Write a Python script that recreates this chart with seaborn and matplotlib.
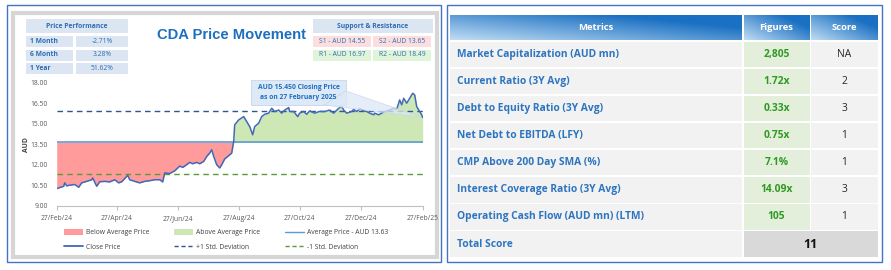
import numpy as np
import pandas as pd
import matplotlib
matplotlib.use("Agg")
import matplotlib.pyplot as plt
from matplotlib.patches import Rectangle, Polygon
from matplotlib.lines import Line2D
from matplotlib.patches import Patch
import seaborn as sns

# ---------------- data ----------------
dates = ["2024-02-27", "2024-02-29", "2024-03-05", "2024-03-06", "2024-03-08", "2024-03-11",
         "2024-03-16", "2024-03-20", "2024-03-23", "2024-03-28", "2024-04-02", "2024-04-03",
         "2024-04-07", "2024-04-10", "2024-04-15", "2024-04-20", "2024-04-25", "2024-04-29",
         "2024-05-02", "2024-05-08", "2024-05-10", "2024-05-15", "2024-05-20", "2024-05-25",
         "2024-05-30", "2024-06-04", "2024-06-09", "2024-06-12", "2024-06-14", "2024-06-19",
         "2024-06-24", "2024-06-29", "2024-07-02", "2024-07-06", "2024-07-09", "2024-07-12",
         "2024-07-16", "2024-07-19", "2024-07-23", "2024-07-26", "2024-07-29", "2024-07-31",
         "2024-08-02", "2024-08-05", "2024-08-08", "2024-08-10", "2024-08-13", "2024-08-17",
         "2024-08-20", "2024-08-22", "2024-08-23", "2024-08-27", "2024-09-01", "2024-09-04",
         "2024-09-07", "2024-09-10", "2024-09-12", "2024-09-16", "2024-09-19", "2024-09-22",
         "2024-09-26", "2024-09-29", "2024-10-02", "2024-10-06", "2024-10-09", "2024-10-12",
         "2024-10-16", "2024-10-17", "2024-10-21", "2024-10-25", "2024-10-27", "2024-10-31",
         "2024-11-03", "2024-11-06", "2024-11-11", "2024-11-16", "2024-11-21", "2024-11-26",
         "2024-11-30", "2024-12-05", "2024-12-08", "2024-12-10", "2024-12-13", "2024-12-18",
         "2024-12-20", "2024-12-23", "2024-12-26", "2024-12-30", "2025-01-02", "2025-01-05",
         "2025-01-09", "2025-01-10", "2025-01-14", "2025-01-17", "2025-01-20", "2025-01-25",
         "2025-01-29", "2025-02-01", "2025-02-04", "2025-02-06", "2025-02-08", "2025-02-11",
         "2025-02-14", "2025-02-17", "2025-02-19", "2025-02-21", "2025-02-24", "2025-02-26",
         "2025-02-27"]
close = [10.25, 10.30, 10.42, 10.67, 10.45, 10.50,
         10.55, 10.35, 10.67, 10.78, 10.90, 11.03,
         10.42, 10.75, 10.78, 10.74, 10.90, 10.67,
         10.75, 11.22, 10.90, 10.78, 10.67, 10.78,
         10.83, 10.90, 10.90, 10.74, 11.40, 11.35,
         11.55, 11.90, 11.80, 12.00, 12.17, 12.07,
         12.17, 12.07, 12.24, 12.60, 12.85, 13.09,
         12.60, 12.00, 11.76, 12.00, 12.42, 12.66,
         12.85, 13.70, 14.92, 15.28, 15.52, 15.16,
         14.79, 14.19, 14.79, 15.04, 15.52, 15.69,
         15.77, 16.13, 15.89, 16.00, 15.77, 16.00,
         16.18, 15.89, 15.89, 15.52, 15.77, 15.89,
         15.69, 15.94, 15.77, 15.90, 15.89, 16.00,
         15.77, 16.13, 16.25, 16.00, 15.77, 15.89,
         16.05, 15.89, 16.10, 15.95, 15.89, 15.77,
         15.65, 15.77, 15.65, 15.77, 15.89, 16.00,
         16.13, 16.05, 16.74, 16.38, 16.86, 16.50,
         16.86, 17.23, 17.10, 16.25, 15.89, 15.65,
         15.45]
avg_price = 13.63
plus_std = 15.96
minus_std = 11.30
y_ticks = [9.00, 10.50, 12.00, 13.50, 15.00, 16.50, 18.00]
x_ticks = ["2024-02-27", "2024-04-27", "2024-06-27", "2024-08-27", "2024-10-27", "2024-12-27", "2025-02-27"]

perf_labels = ["1 Month", "6 Month", "1 Year"]
perf_values = ["-2.71%", "3.28%", "51.62%"]
support = ["S1 - AUD 14.55", "S2 - AUD 13.65"]
resistance = ["R1 - AUD 16.97", "R2 - AUD 18.49"]

metrics = ["Market Capitalization (AUD mn)", "Current Ratio (3Y Avg)", "Debt to Equity Ratio (3Y Avg)",
           "Net Debt to EBITDA (LFY)", "CMP Above 200 Day SMA (%)", "Interest Coverage Ratio (3Y Avg)",
           "Operating Cash Flow (AUD mn) (LTM)"]
figures = ["2,805", "1.72x", "0.33x", "0.75x", "7.1%", "14.09x", "105"]
scores = ["NA", "2", "3", "1", "1", "3", "1"]
total_score = "11"

# ---------------- setup ----------------
sns.set_theme(style="white")
plt.rcParams['font.family'] = ['Open Sans', 'DejaVu Sans']
FS = 4.9      # small text
FT = 7.4      # table text
W, H = 891, 270
fig = plt.figure(figsize=(W / 100, H / 100), dpi=100)
fig.patch.set_facecolor("white")


def R(x0, y0, x1, y1, **kw):
    r = Rectangle((x0 / W, 1 - y1 / H), (x1 - x0) / W, (y1 - y0) / H, transform=fig.transFigure, **kw)
    fig.add_artist(r)
    return r


def T(x, y, s, **kw):
    return fig.text(x / W, 1 - y / H, s, **kw)


def gradient(x0, y0, x1, y1, c_light, c_dark):
    ax_g = fig.add_axes([x0 / W, 1 - y1 / H, (x1 - x0) / W, (y1 - y0) / H])
    xx, yy = np.meshgrid(np.linspace(0, 1, 200), np.linspace(0, 1, 40))
    t = np.clip(0.7 * xx + 0.6 * yy, 0, 1)[..., None]
    cl = np.array(matplotlib.colors.to_rgb(c_light))
    cd = np.array(matplotlib.colors.to_rgb(c_dark))
    img = cl * (1 - t) + cd * t
    ax_g.imshow(img, extent=[0, 1, 0, 1], aspect="auto", origin="lower")
    ax_g.axis("off")
    return ax_g


# panel frames
R(7, 5, 441, 262, facecolor="white", edgecolor="#4472c4", lw=1.0, zorder=0)
R(13, 13, 437, 257, facecolor="white", edgecolor="#d6d6d6", lw=3.0, zorder=0)
R(447, 5, 882, 262, facecolor="white", edgecolor="#4472c4", lw=1.0, zorder=0)

# ---------------- price chart ----------------
df = pd.DataFrame({"date": pd.to_datetime(dates), "close": close})
ax = fig.add_axes([56.7 / W, 1 - 205.7 / H, (422.7 - 56.7) / W, (205.7 - 82.7) / H])
ax.set_facecolor("none")

ax.fill_between(df["date"], df["close"], avg_price, where=df["close"] <= avg_price,
                interpolate=True, color="#ff9b9b", lw=0, zorder=1)
ax.fill_between(df["date"], df["close"], avg_price, where=df["close"] >= avg_price,
                interpolate=True, color="#cde8b5", lw=0, zorder=1)
x0d, x1d = df["date"].iloc[0], df["date"].iloc[-1]
ax.plot([x0d, x1d], [avg_price, avg_price], color="#5b9bd5", lw=1.2, zorder=2)
ax.plot([x0d, x1d], [plus_std, plus_std], color="#2f5597", lw=1.0, ls=(0, (4, 3)), zorder=2)
ax.plot([x0d, x1d], [minus_std, minus_std], color="#5a9a3a", lw=1.0, ls=(0, (4, 3)), zorder=2)
sns.lineplot(data=df, x="date", y="close", ax=ax, color="#4169b8", lw=1.1, zorder=3)

ax.set_xlim(pd.Timestamp(x_ticks[0]), pd.Timestamp(x_ticks[-1]))
ax.set_ylim(9, 18)
ax.set_yticks(y_ticks)
ax.set_yticklabels([f"{v:.2f}" for v in y_ticks], fontsize=FS, color="#595959")
ax.set_xticks(pd.to_datetime(x_ticks))
ax.set_xticklabels([pd.Timestamp(t).strftime("%d/%b/%y") for t in x_ticks], fontsize=FS, color="#595959")
ax.tick_params(axis="y", length=0, pad=6.5)
ax.tick_params(axis="x", length=3, color="#bfbfbf", width=0.8, pad=4, bottom=True)
for s in ["top", "right", "left"]:
    ax.spines[s].set_visible(False)
ax.spines["bottom"].set_color("#bfbfbf")
ax.spines["bottom"].set_linewidth(0.8)
ax.set_xlabel("")
ax.set_ylabel("AUD", fontsize=FS, fontweight="bold", color="#404040")
ax.yaxis.set_label_coords(-0.073, 0.5)

# legend: three columns placed at the reference positions
leg_cols = [
    ([Patch(facecolor="#ff9b9b", edgecolor="none"), Line2D([], [], color="#4169b8", lw=1.3)],
     ["Below Average Price", "Close Price"], 61),
    ([Patch(facecolor="#cde8b5", edgecolor="none"), Line2D([], [], color="#2f5597", lw=1.0, ls=(0, (3, 2)))],
     ["Above Average Price", "+1 Std. Deviation"], 171),
    ([Line2D([], [], color="#5b9bd5", lw=1.0), Line2D([], [], color="#5a9a3a", lw=1.0, ls=(0, (3, 2)))],
     ["Average Price - AUD 13.63", "-1 Std. Deviation"], 282),
]
for hs, ls_, xpos in leg_cols:
    fig.legend(hs, ls_, ncol=1, loc="upper left", bbox_to_anchor=(xpos / W, 1 - 226.5 / H),
               frameon=False, fontsize=FS, handlelength=2.9, handleheight=0.9,
               labelspacing=1.05, handletextpad=0.4, labelcolor="#404040", borderaxespad=0, borderpad=0.4)

# callout
R(251, 80, 346, 105, facecolor="#dde9f6", edgecolor="#c5d6ea", lw=0.6, zorder=5)
tri = Polygon([(346 / W, 1 - 91 / H), (324 / W, 1 - 105 / H), (421 / W, 1 - 117 / H)],
              closed=True, transform=fig.transFigure, facecolor="#dde9f6", edgecolor="#c5d6ea",
              lw=0.6, alpha=0.75, zorder=5)
fig.add_artist(tri)
T(298.5, 92.5, "AUD 15.450 Closing Price\nas on 27 February 2025", ha="center", va="center",
  fontsize=FS, fontweight="bold", color="#1f6fc0", linespacing=1.6, zorder=6)

# title
T(231.5, 35, "CDA Price Movement", ha="center", va="center", fontsize=10.6, fontweight="bold",
  color="#1f6fbf", family=["Liberation Sans", "DejaVu Sans"])

# price performance table
hdr_bg = "#dce6f2"
R(26, 19, 128, 33, facecolor=hdr_bg, lw=0)
T(77, 26, "Price Performance", ha="center", va="center", fontsize=FS, fontweight="bold", color="#2e6db4")
for i, (lab, val) in enumerate(zip(perf_labels, perf_values)):
    y0 = 36 + i * 13.5
    R(26, y0, 73, y0 + 11, facecolor=hdr_bg, lw=0)
    R(76, y0, 128, y0 + 11, facecolor=hdr_bg, lw=0)
    T(30, y0 + 5.5, lab, ha="left", va="center", fontsize=FS, fontweight="bold", color="#2e6db4")
    T(102, y0 + 5.5, val, ha="center", va="center", fontsize=FS, color="#2e6db4")

# support & resistance
R(313, 19, 433, 33, facecolor=hdr_bg, lw=0)
T(373, 26, "Support & Resistance", ha="center", va="center", fontsize=FS, fontweight="bold", color="#2e6db4")
for j, s in enumerate(support):
    xa = 313 + j * 60
    R(xa, 36, xa + 58, 47, facecolor="#fcdede", lw=0)
    T(xa + 29, 41.5, s, ha="center", va="center", fontsize=FS, color="#2e6db4")
for j, s in enumerate(resistance):
    xa = 313 + j * 60
    R(xa, 49.5, xa + 58, 60.5, facecolor="#dff4d8", lw=0)
    T(xa + 29, 55, s, ha="center", va="center", fontsize=FS, color="#2e6db4")

# ---------------- metrics table ----------------
cols = [(450, 742), (743.5, 809.5), (811, 878)]
for a, b in cols:
    gradient(a, 15, b, 40, "#c0ddf4", "#1a70c2")
for (a, b), h in zip(cols, ["Metrics", "Figures", "Score"]):
    T((a + b) / 2, 27.5, h, ha="center", va="center", fontsize=FT - 0.6, fontweight="bold", color="white", zorder=10)

row_h = 27.1
for i, (m, f, s) in enumerate(zip(metrics, figures, scores)):
    y0 = 41.7 + i * row_h
    y1 = y0 + 25.3
    R(cols[0][0], y0, cols[0][1], y1, facecolor="#f2f2f2", lw=0)
    R(cols[1][0], y0, cols[1][1], y1, facecolor="#e3efdb", lw=0)
    R(cols[2][0], y0, cols[2][1], y1, facecolor="#f2f2f2", lw=0)
    yc = (y0 + y1) / 2
    T(457, yc, m, ha="left", va="center", fontsize=FT, fontweight="bold", color="#2e75c0")
    T((cols[1][0] + cols[1][1]) / 2, yc, f, ha="center", va="center", fontsize=FT, fontweight="bold",
      color="#2f9a22")
    T((cols[2][0] + cols[2][1]) / 2, yc, s, ha="center", va="center", fontsize=FT, color="#262626")

y0 = 41.7 + 7 * row_h
y1 = y0 + 25.3
R(cols[0][0], y0, cols[0][1], y1, facecolor="#f2f2f2", lw=0)
R(cols[1][0], y0, cols[2][1], y1, facecolor="#d9d9d9", lw=0)
T(457, (y0 + y1) / 2, "Total Score", ha="left", va="center", fontsize=FT, fontweight="bold", color="#2e75c0")
T((cols[1][0] + cols[2][1]) / 2, (y0 + y1) / 2, total_score, ha="center", va="center", fontsize=9,
  fontweight="bold", color="#111111")

fig.savefig("out.png", dpi=100)
